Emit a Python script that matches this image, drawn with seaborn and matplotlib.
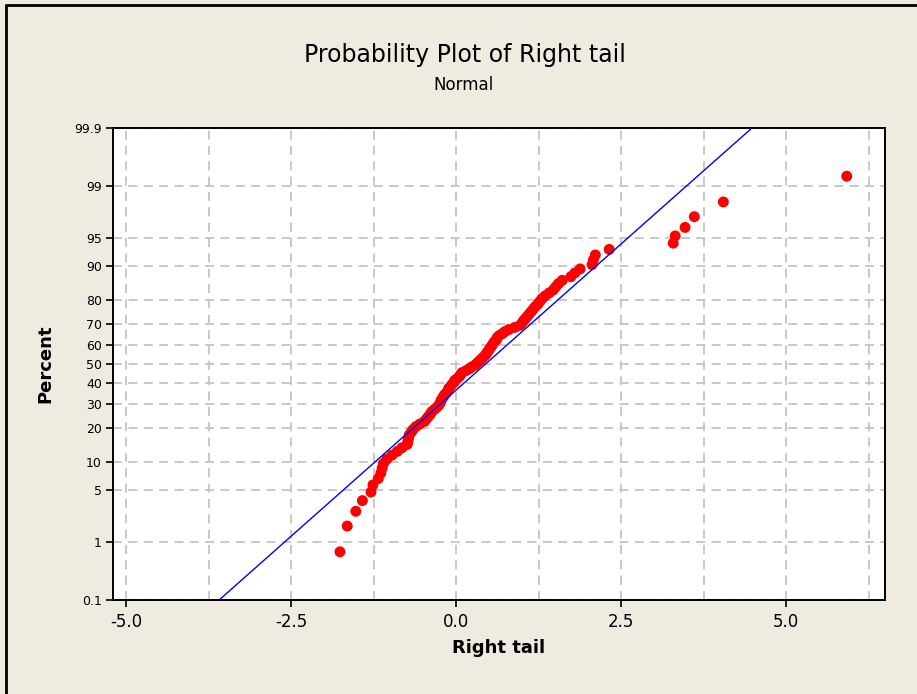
from statistics import NormalDist
import numpy as np
import pandas as pd
import matplotlib
matplotlib.use("Agg")
import matplotlib.pyplot as plt
from matplotlib.lines import Line2D
from matplotlib.ticker import MultipleLocator, FixedLocator
import seaborn as sns

# sorted sample values (n = 100)
right_tail = [
    -1.76, -1.65, -1.52, -1.42, -1.29, -1.26, -1.18, -1.14, -1.12, -1.10,
    -1.05, -0.97, -0.89, -0.82, -0.74, -0.73, -0.72, -0.71, -0.68, -0.65,
    -0.61, -0.55, -0.48, -0.45, -0.42, -0.39, -0.37, -0.33, -0.29, -0.26,
    -0.24, -0.23, -0.21, -0.19, -0.17, -0.14, -0.12, -0.11, -0.08, -0.06,
    -0.03, -0.02, 0.02, 0.05, 0.07, 0.09, 0.15, 0.20, 0.24, 0.29,
    0.32, 0.35, 0.38, 0.41, 0.44, 0.46, 0.48, 0.50, 0.52, 0.54,
    0.56, 0.58, 0.61, 0.62, 0.65, 0.70, 0.74, 0.80, 0.89, 0.97,
    1.00, 1.02, 1.05, 1.08, 1.11, 1.14, 1.17, 1.20, 1.24, 1.27,
    1.30, 1.35, 1.41, 1.47, 1.51, 1.55, 1.61, 1.74, 1.80, 1.88,
    2.06, 2.08, 2.11, 2.32, 3.29, 3.32, 3.47, 3.61, 4.05, 5.92,
]
pct_ticks = [0.1, 1, 5, 10, 20, 30, 40, 50, 60, 70, 80, 90, 95, 99, 99.9]
pct_labels = ["0.1", "1", "5", "10", "20", "30", "40", "50", "60", "70",
              "80", "90", "95", "99", "99.9"]
x_ticks = [-5.0, -2.5, 0.0, 2.5, 5.0]

nd = NormalDist()
_ppf = np.vectorize(nd.inv_cdf, otypes=[float])
_cdf = np.vectorize(nd.cdf, otypes=[float])


def fwd(p):
    p = np.clip(np.asarray(p, dtype=float) / 100.0, 1e-7, 1 - 1e-7)
    return _ppf(p)


def inv(z):
    return _cdf(np.asarray(z, dtype=float)) * 100.0


vals = np.sort(np.array(right_tail))
n = len(vals)
rank = np.arange(1, n + 1)
df = pd.DataFrame({"Right tail": vals,
                   "Percent": (rank - 0.3) / (n + 0.4) * 100})

# fitted normal line from sample mean / std
mu = vals.mean()
sd = vals.std(ddof=1)
line_pct = np.array([0.1, 99.9])
line_df = pd.DataFrame({"Right tail": mu + sd * fwd(line_pct),
                        "Percent": line_pct})

sns.set_theme(style="white")
plt.rcParams["font.family"] = ["DejaVu Sans"]
plt.rcParams["text.color"] = "black"
plt.rcParams["axes.labelcolor"] = "black"
plt.rcParams["xtick.color"] = "black"
plt.rcParams["ytick.color"] = "black"

bg = "#efebe1"
fig = plt.figure(figsize=(9.17, 6.94), dpi=100, facecolor=bg)
ax = fig.add_axes([0.1232, 0.1354, 0.8419, 0.6802])
ax.set_facecolor("white")

ax.set_yscale("function", functions=(fwd, inv))
ax.set_ylim(0.1, 99.9)
ax.set_xlim(-5.2, 6.5)

sns.scatterplot(data=df, x="Right tail", y="Percent", ax=ax, color="#ff0000",
                s=62, edgecolor="none", zorder=3)
sns.lineplot(data=line_df, x="Right tail", y="Percent", ax=ax, color="#0000ff",
             linewidth=1.0, zorder=4)

ax.yaxis.set_major_locator(FixedLocator(pct_ticks))
ax.set_yticklabels(pct_labels)
ax.yaxis.set_minor_locator(FixedLocator([]))
ax.xaxis.set_major_locator(FixedLocator(x_ticks))
ax.set_xticklabels([f"{t:.1f}" for t in x_ticks])
ax.xaxis.set_minor_locator(MultipleLocator(1.25))

grid_kw = dict(color="#c4c4c4", linestyle=(0, (5, 3.5)), linewidth=1.3)
ax.grid(True, which="both", axis="x", **grid_kw)
ax.grid(True, which="major", axis="y", **grid_kw)
ax.set_axisbelow(True)

ax.tick_params(axis="x", which="major", direction="out", length=5, width=1.2,
               color="black", labelcolor="black", labelsize=12, pad=4, bottom=True)
ax.tick_params(axis="x", which="minor", length=0)
ax.tick_params(axis="y", which="major", direction="out", length=5, width=1.2,
               color="black", labelcolor="black", labelsize=9, pad=3, left=True)
for sp in ax.spines.values():
    sp.set_color("black")
    sp.set_linewidth(1.4)

ax.set_xlabel("Right tail", fontsize=13, fontweight="bold", labelpad=6, color="black")
ax.set_ylabel("Percent", fontsize=13, fontweight="bold", labelpad=14, color="black")

fig.text(0.507, 0.921, "Probability Plot of Right tail", ha="center",
         va="center", fontsize=17, color="black")
fig.text(0.505, 0.877, "Normal", ha="center", va="center", fontsize=12,
         color="black")

fig.add_artist(Line2D([6 / 917, 1], [1 - 5 / 694, 1 - 5 / 694],
                      transform=fig.transFigure, color="black", linewidth=2))
fig.add_artist(Line2D([6 / 917, 6 / 917], [0, 1 - 5 / 694],
                      transform=fig.transFigure, color="black", linewidth=2))

fig.savefig("out.png", dpi=100, facecolor=bg)
